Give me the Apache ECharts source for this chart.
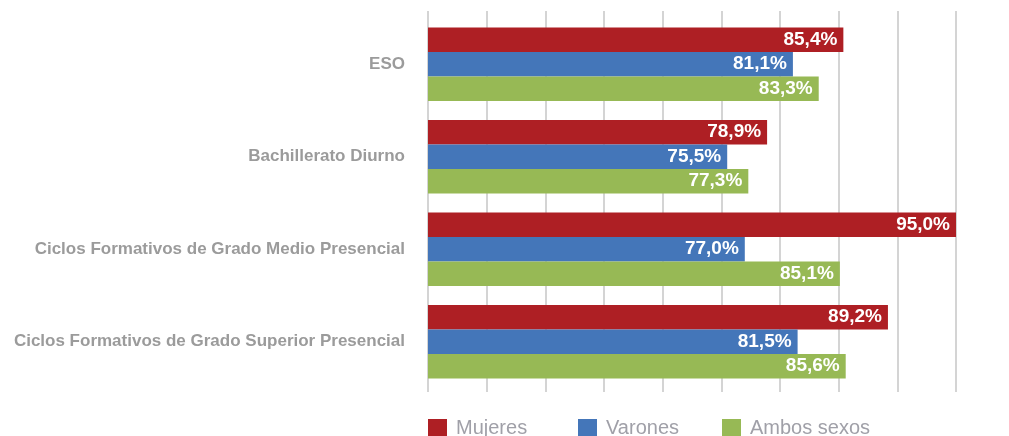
<!DOCTYPE html>
<html>
<head>
<meta charset="utf-8">
<script src="https://cdn.jsdelivr.net/npm/echarts@6/dist/echarts.min.js"></script>
<style>
  html, body { margin: 0; padding: 0; background: #fff; }
  #chart { width: 1009px; height: 436px; }
</style>
</head>
<body>
<div id="chart"></div>
<script>
const categories = [
  'ESO',
  'Bachillerato Diurno',
  'Ciclos Formativos de Grado Medio Presencial',
  'Ciclos Formativos de Grado Superior Presencial'
]
const mujeres = [85.4, 78.9, 95.0, 89.2]
const varones = [81.1, 75.5, 77.0, 81.5]
const ambos = [83.3, 77.3, 85.1, 85.6]
const seriesNames = ['Mujeres', 'Varones', 'Ambos sexos']

const colors = ['#ae1f24', '#4476b9', '#97b955']
const font = '"Liberation Sans Narrow", "Liberation Sans", Arial, sans-serif'
const gridGray = '#d4d4d4'

const chart = echarts.init(document.getElementById('chart'))

function barSeries(name, data, color) {
  return {
    name,
    type: 'bar',
    data,
    barWidth: 24.5,
    barGap: '0%',
    itemStyle: { color },
    label: {
      show: true,
      position: 'insideRight',
      distance: 6,
      color: '#fff',
      fontFamily: font,
      fontWeight: 'bold',
      fontSize: 19,
      formatter: p => p.value.toFixed(1).replace('.', ',') + '%'
    }
  }
}

function legendAt(left, name) {
  return {
    data: [name],
    left,
    top: 418,
    padding: 0,
    itemWidth: 19,
    itemHeight: 18,
    itemGap: 0,
    icon: 'rect',
    textStyle: { color: '#a0a0a8', fontFamily: font, fontSize: 20, padding: [5, 0, 0, 4] }
  }
}

// shared x scale; the second (top) axis only extends the grid lines upward
const xBase = { type: 'value', min: 50, max: 95, interval: 5, axisLabel: { show: false }, axisLine: { show: false } }

chart.setOption({
  animation: false,
  legend: [
    legendAt(428, 'Mujeres'),
    legendAt(578, 'Varones'),
    legendAt(722, 'Ambos sexos')
  ],
  grid: { left: 428, right: 53, top: 18, height: 370 },
  xAxis: [
    {
      ...xBase,
      position: 'bottom',
      axisTick: { show: true, length: 4, lineStyle: { color: gridGray, width: 2 } },
      splitLine: { show: true, lineStyle: { color: gridGray, width: 2 } }
    },
    {
      ...xBase,
      position: 'top',
      axisTick: { show: true, length: 7, lineStyle: { color: gridGray, width: 2 } },
      splitLine: { show: false }
    }
  ],
  yAxis: {
    type: 'category',
    data: categories,
    inverse: true,
    axisLine: { show: false },
    axisTick: { show: false },
    axisLabel: {
      color: '#9b9b9b',
      fontFamily: font,
      fontWeight: 'bold',
      fontSize: 17,
      margin: 23
    }
  },
  series: [
    barSeries(seriesNames[0], mujeres, colors[0]),
    barSeries(seriesNames[1], varones, colors[1]),
    barSeries(seriesNames[2], ambos, colors[2])
  ]
})
</script>
</body>
</html>
